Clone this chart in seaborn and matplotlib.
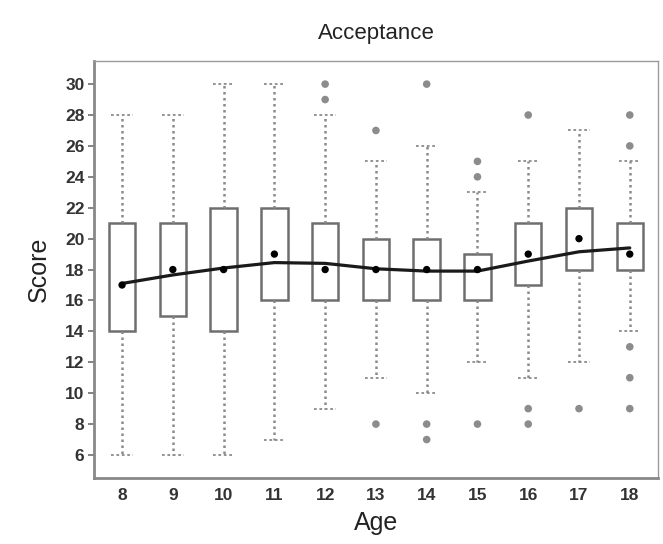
import numpy as np
import pandas as pd
import matplotlib
matplotlib.use("Agg")
import matplotlib.pyplot as plt
import seaborn as sns

# ---- data ----
ages = [8, 9, 10, 11, 12, 13, 14, 15, 16, 17, 18]
whisker_low = [6, 6, 6, 7, 9, 11, 10, 12, 11, 12, 14]
q1 = [14, 15, 14, 16, 16, 16, 16, 16, 17, 18, 18]
medians = [17, 18, 18, 19, 18, 18, 18, 18, 19, 20, 19]
q3 = [21, 21, 22, 22, 21, 20, 20, 19, 21, 22, 21]
whisker_high = [28, 28, 30, 30, 28, 25, 26, 23, 25, 27, 25]
outlier_ages = [12, 12, 13, 13, 14, 14, 14, 15, 15, 15, 16, 16, 16, 17, 18, 18, 18, 18, 18]
outlier_vals = [30, 29, 27, 8, 30, 8, 7, 25, 24, 8, 28, 9, 8, 9, 28, 26, 13, 11, 9]
smooth_vals = [17.1, 17.65, 18.1, 18.45, 18.4, 18.05, 17.9, 17.9, 18.55, 19.15, 19.4]
y_ticks = [6, 8, 10, 12, 14, 16, 18, 20, 22, 24, 26, 28, 30]

sns.set_theme(style="white")
plt.rcParams['font.family'] = ['Liberation Sans', 'DejaVu Sans']

# five-number records per age (quartiles of 5 values are exact)
rows = []
for a, lo, a1, m, a3, hi in zip(ages, whisker_low, q1, medians, q3, whisker_high):
    for v in (lo, a1, m, a3, hi):
        rows.append({"Age": str(a), "Score": v})
box_df = pd.DataFrame(rows)
order = [str(a) for a in ages]

fig = plt.figure(figsize=(6.63, 5.44), dpi=100)
ax = fig.add_axes([0.142, 0.121, 0.850, 0.767])

grey = "#6e6e6e"
sns.boxplot(data=box_df, x="Age", y="Score", order=order, whis=(0, 100),
            showfliers=False, width=0.52, color="white", linecolor=grey,
            linewidth=1.8,
            medianprops=dict(visible=False),
            whiskerprops=dict(linestyle=(0, (1, 1.4)), linewidth=1.8, color="#8a8a8a"),
            capprops=dict(linestyle=(0, (1.5, 1.5)), linewidth=1.3, color="#8a8a8a"),
            capwidths=0.42, ax=ax)

pos = {a: i for i, a in enumerate(ages)}
out_df = pd.DataFrame({"x": [pos[a] for a in outlier_ages], "Score": outlier_vals})
sns.scatterplot(data=out_df, x="x", y="Score", color="#8c8c8c", s=30,
                edgecolor="none", ax=ax, zorder=3)

smooth_df = pd.DataFrame({"x": [pos[a] for a in ages], "v": smooth_vals})
sns.lineplot(data=smooth_df, x="x", y="v", color="#1a1a1a", linewidth=2.3,
             ax=ax, zorder=4)

med_df = pd.DataFrame({"x": [pos[a] for a in ages], "m": medians})
sns.scatterplot(data=med_df, x="x", y="m", color="black", s=28,
                edgecolor="none", ax=ax, zorder=5)

ax.set_xlim(-0.55, 10.55)
ax.set_ylim(4.5, 31.5)
ax.set_yticks(y_ticks)
ax.set_yticklabels([str(t) for t in y_ticks], fontsize=12.5, fontweight="bold", color="#333333")
ax.set_xticks(range(len(ages)))
ax.set_xticklabels(order, fontsize=12.5, fontweight="bold", color="#333333")
ax.tick_params(axis="y", length=4, width=1.2, color=grey, left=True, pad=3)
ax.tick_params(axis="x", length=0, pad=7)

for s in ax.spines.values():
    s.set_color("#9a9a9a")
    s.set_linewidth(1.0)
ax.spines["left"].set_linewidth(2.0)
ax.spines["left"].set_color("#888888")
ax.spines["bottom"].set_linewidth(2.0)
ax.spines["bottom"].set_color("#888888")

ax.set_xlabel("Age", fontsize=18, color="#222222", labelpad=6)
ax.set_ylabel("Score", fontsize=18, color="#222222", labelpad=10)
ax.set_title("Acceptance", fontsize=16, color="#222222", pad=16)

fig.savefig("out.png", dpi=100)
